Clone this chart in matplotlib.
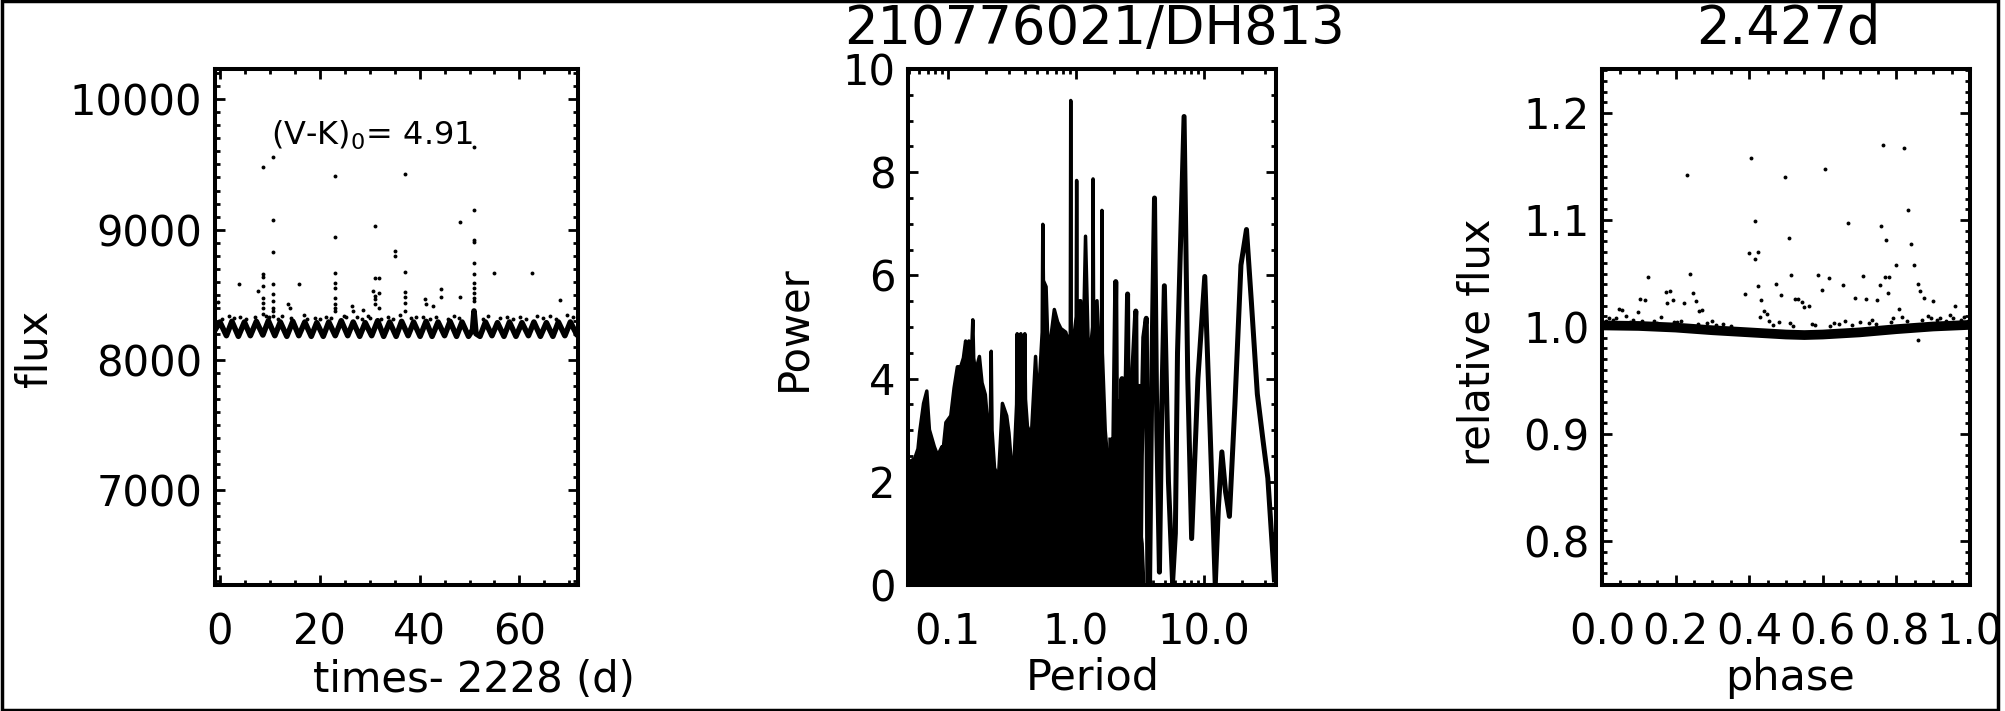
import matplotlib
matplotlib.use('Agg')
import matplotlib.pyplot as plt
from matplotlib.patches import Rectangle
from matplotlib.ticker import MultipleLocator, FixedLocator, LogLocator, NullFormatter

plt.rcParams['font.family'] = ['DejaVu Sans']
plt.rcParams['mathtext.default'] = 'regular'

# ---- light curve (left panel): baseline zigzag ----
band_time = [-0.8, 0.0, 1.3, 2.4, 3.7, 4.9, 6.1, 7.3, 8.6, 9.7, 11.0, 12.1, 13.4, 14.6,
             15.8, 17.0, 18.3, 19.4, 20.7, 21.8, 23.1, 24.3, 25.6, 26.7, 28.0, 29.1,
             30.4, 31.6, 32.8, 34.0, 35.3, 36.4, 37.7, 38.8, 40.1, 41.3, 42.5, 43.7,
             45.0, 46.1, 47.4, 48.5, 49.8, 50.6, 50.9, 51.3, 52.1, 53.2, 54.5, 55.6,
             56.9, 58.0, 59.3, 60.5, 61.8, 62.9, 64.2, 65.4, 66.7, 67.8, 69.1, 70.2, 71.4]
band_flux = [8240, 8290, 8185, 8295, 8180, 8290, 8185, 8295, 8190, 8300, 8185, 8290, 8180, 8295,
             8185, 8290, 8180, 8285, 8180, 8290, 8185, 8300, 8185, 8290, 8180, 8285,
             8185, 8300, 8180, 8290, 8180, 8295, 8185, 8290, 8180, 8295, 8180, 8290,
             8185, 8295, 8180, 8290, 8180, 8230, 8375, 8200, 8180, 8290, 8185, 8285,
             8180, 8290, 8180, 8285, 8185, 8290, 8180, 8285, 8180, 8290, 8185, 8290, 8200]

# flare points and scatter above the baseline
flare_time = [-0.3, 3.9, 7.7, 8.7, 8.7, 8.7, 8.7, 8.7, 8.7, 8.7, 8.7,
              10.7, 10.7, 10.7, 10.7, 10.7, 10.7, 10.7, 10.7, 10.7,
              13.7, 14.0, 15.9, 23.1, 23.1, 23.1, 23.1, 23.1, 23.1, 23.1, 23.1, 23.1,
              26.4, 26.6, 28.6, 30.6, 31.0, 31.0, 31.0, 31.0, 31.0, 31.8, 31.8, 31.8,
              35.0, 35.0, 37.0, 37.0, 37.0, 37.0, 37.0, 37.0, 41.1, 41.2, 42.6,
              44.3, 44.3, 48.1, 48.1, 50.9, 50.9, 50.9, 50.9, 50.9, 50.9, 50.9,
              50.9, 50.9, 50.9, 50.9, 55.0, 62.5, 68.1,
              1.9, 4.1, 9.3, 12.5, 16.8, 19.0, 21.3, 24.8, 27.5, 29.6, 33.7, 36.0,
              39.2, 43.2, 46.9, 53.8, 57.5, 60.1, 63.6, 66.2, 69.6,
              0.4, 2.8, 5.3, 7.0, 9.9, 11.6, 14.3, 17.4, 20.1, 22.3, 25.2, 28.4,
              30.0, 32.3, 34.6, 38.3, 40.6, 42.0, 45.6, 47.8, 52.7, 56.2, 58.8,
              61.3, 64.8, 67.3, 70.7]
flare_flux = [8440, 8580, 8530, 9480, 8656, 8638, 8566, 8477, 8439, 8400, 8350,
              9560, 9077, 8826, 8579, 8503, 8451, 8401, 8375, 8340,
              8426, 8401, 8579, 9413, 8941, 8669, 8592, 8554, 8477, 8426, 8401, 8375,
              8410, 8375, 8380, 8530, 9031, 8626, 8490, 8465, 8425, 8626, 8515, 8400,
              8834, 8796, 9426, 8673, 8518, 8479, 8439, 8375, 8464, 8430, 8411,
              8541, 8480, 9059, 8484, 9637, 9153, 8923, 8903, 8740, 8656, 8592,
              8554, 8515, 8477, 8451, 8664, 8664, 8457,
              8340, 8330, 8340, 8335, 8345, 8320, 8330, 8335, 8325, 8340, 8330, 8345,
              8325, 8330, 8340, 8335, 8330, 8325, 8335, 8340, 8345,
              8315, 8320, 8310, 8325, 8330, 8315, 8320, 8310, 8315, 8320, 8325, 8310,
              8320, 8315, 8310, 8320, 8325, 8315, 8310, 8320, 8315, 8320, 8310,
              8315, 8320, 8310, 8325]

# ---- periodogram (middle panel) ----
# dense part: upper envelope of the unresolved spikes
env_period = [0.0492, 0.0513, 0.0554, 0.0588, 0.0605, 0.0650, 0.0689, 0.0722, 0.0789, 0.0838,
              0.0904, 0.0910, 0.0916, 0.0922, 0.0971, 0.106, 0.1125, 0.1194, 0.1267, 0.1330,
              0.1384, 0.1420, 0.1468, 0.1495, 0.1512, 0.1545, 0.1575, 0.1600, 0.1652, 0.1773,
              0.1859, 0.1972, 0.2067, 0.2160, 0.2193, 0.2225, 0.2327, 0.2496, 0.2681, 0.2895,
              0.3015, 0.3162, 0.3316, 0.3460, 0.3497, 0.3540, 0.3700, 0.3733, 0.3770, 0.3960,
              0.4010, 0.4060, 0.4202, 0.4508, 0.4866, 0.5070, 0.5480, 0.5542, 0.5600, 0.5878,
              0.6053, 0.6422, 0.6814, 0.7229, 0.7669, 0.8377, 0.8630, 0.9080, 0.9154, 0.9230,
              0.9709, 1.0100, 1.018, 1.026, 1.093, 1.139, 1.194, 1.266, 1.355, 1.367,
              1.380, 1.468, 1.539, 1.592, 1.604, 1.616, 1.701, 1.805, 1.881, 1.950,
              2.100, 2.250, 2.400, 2.550, 2.700, 2.850, 3.000, 3.150, 3.300, 3.400]
env_power = [2.00, 2.40, 2.45, 2.64, 2.95, 3.52, 3.76, 3.01, 2.68, 2.51,
             2.68, 2.60, 1.94, 2.60, 3.15, 3.28, 3.82, 4.23, 4.23, 4.40,
             4.73, 4.50, 4.73, 4.60, 2.88, 4.60, 5.14, 4.40, 4.13, 4.43,
             3.92, 3.69, 3.08, 3.30, 4.53, 3.00, 2.27, 2.07, 3.52, 3.28,
             2.95, 2.31, 2.47, 3.50, 4.87, 3.60, 3.40, 4.87, 3.50, 3.60,
             4.87, 3.60, 3.08, 2.88, 4.43, 3.42, 4.90, 6.99, 5.90, 5.78,
             4.77, 4.83, 5.34, 5.10, 4.97, 4.90, 4.77, 4.85, 9.39, 4.85,
             4.83, 5.20, 7.84, 5.50, 5.51, 4.30, 6.76, 4.20, 5.00, 7.87,
             5.30, 5.51, 4.20, 5.00, 7.26, 4.50, 3.00, 2.20, 2.81, 2.30,
             2.60, 1.60, 2.40, 1.50, 2.80, 1.80, 2.20, 1.20, 0.80, 0.00]

# resolved part at long periods
res_period = [1.881, 1.93, 2.00, 2.055, 2.11, 2.154, 2.22, 2.30, 2.36, 2.45, 2.542, 2.60,
              2.649, 2.72, 2.80, 2.946, 3.02, 3.125, 3.19, 3.257, 3.40, 3.559, 3.66, 3.776,
              3.95, 4.125, 4.30, 4.507, 4.70, 4.924, 5.30, 5.707, 6.00, 6.236, 7.017, 7.50,
              8.038, 9.00, 10.18, 11.2, 12.29, 13.0, 13.84, 14.8, 15.85, 17.5, 19.5, 21.54,
              23.5, 26.18, 29.0, 31.62, 35.59]
res_power = [2.81, 0.20, 3.50, 5.88, 0.50, 3.55, 0.15, 4.00, 0.20, 3.20, 5.64, 0.20,
             3.80, 0.10, 4.20, 5.31, 0.30, 3.85, 0.10, 2.50, 4.80, 5.17, 0.05, 0.05,
             4.50, 7.50, 3.00, 0.25, 3.50, 5.80, 2.00, 0.05, 1.00, 4.50, 9.08, 4.00,
             0.90, 4.00, 5.98, 3.00, 0.00, 1.50, 2.58, 1.80, 1.33, 3.50, 6.20, 6.89,
             5.50, 3.70, 2.80, 2.07, 0.10]

# ---- phased light curve (right panel) ----
band_phase = [0.0, 0.1, 0.2, 0.3, 0.4, 0.5, 0.55, 0.6, 0.7, 0.8, 0.9, 1.0]
band_rel = [1.0015, 1.0010, 0.9995, 0.9970, 0.9950, 0.9930, 0.9925, 0.9930, 0.9950, 0.9980, 1.0005, 1.0020]

out_phase = [0.231, 0.406, 0.498, 0.607, 0.765, 0.822, 0.415, 0.507, 0.668, 0.758, 0.832, 0.772,
             0.841, 0.399, 0.424, 0.415, 0.799, 0.849, 0.125, 0.240, 0.514, 0.587, 0.616, 0.709,
             0.768, 0.781, 0.858, 0.424, 0.598, 0.655, 0.756, 0.474, 0.487, 0.389, 0.777, 0.864,
             0.175, 0.186, 0.248, 0.525, 0.687, 0.718, 0.747, 0.104, 0.118, 0.193, 0.222, 0.256,
             0.432, 0.534, 0.543, 0.562, 0.549, 0.876, 0.901, 0.806, 0.960, 0.047, 0.054, 0.038,
             0.098, 0.178, 0.265, 0.272, 0.299, 0.430, 0.439, 0.448, 0.858,
             0.020, 0.065, 0.085, 0.140, 0.160, 0.205, 0.285, 0.330, 0.455, 0.480, 0.510,
             0.570, 0.630, 0.660, 0.700, 0.735, 0.790, 0.815, 0.885, 0.920, 0.945, 0.985,
             0.010, 0.030, 0.075, 0.110, 0.150, 0.195, 0.215, 0.260, 0.310, 0.350, 0.465,
             0.520, 0.580, 0.620, 0.645, 0.680, 0.725, 0.745, 0.785, 0.830, 0.870, 0.895,
             0.910, 0.935, 0.955, 0.975, 0.995]
out_rel = [1.142, 1.158, 1.140, 1.148, 1.170, 1.167, 1.099, 1.083, 1.097, 1.094, 1.109, 1.081,
           1.078, 1.069, 1.070, 1.064, 1.058, 1.058, 1.047, 1.050, 1.049, 1.049, 1.046, 1.048,
           1.047, 1.047, 1.040, 1.038, 1.035, 1.039, 1.039, 1.040, 1.030, 1.031, 1.032, 1.034,
           1.033, 1.034, 1.032, 1.026, 1.027, 1.026, 1.025, 1.026, 1.025, 1.025, 1.022, 1.024,
           1.025, 1.026, 1.023, 1.020, 1.019, 1.027, 1.024, 1.017, 1.020, 1.017, 1.016, 1.008,
           1.014, 1.022, 1.015, 1.016, 1.006, 1.009, 1.015, 1.012, 0.988,
           1.008, 1.010, 1.007, 1.006, 1.009, 1.005, 1.004, 1.003, 1.006, 1.005, 1.004,
           1.003, 1.004, 1.006, 1.005, 1.007, 1.008, 1.009, 1.010, 1.008, 1.011, 1.009,
           1.006, 1.007, 1.005, 1.006, 1.004, 1.005, 1.006, 1.003, 1.002, 1.001, 1.002,
           1.001, 1.002, 1.001, 1.003, 1.002, 1.004, 1.003, 1.005, 1.006, 1.007, 1.008,
           1.007, 1.006, 1.008, 1.007, 1.006]

fig = plt.figure(figsize=(20.05, 7.11), dpi=100)
ax1 = fig.add_axes([0.1072, 0.1772, 0.1810, 0.7257])
ax2 = fig.add_axes([0.4529, 0.1772, 0.1835, 0.7257])
ax3 = fig.add_axes([0.7990, 0.1772, 0.1835, 0.7257])

for ax in (ax1, ax2, ax3):
    for sp in ax.spines.values():
        sp.set_linewidth(2.9)
    ax.tick_params(which='both', direction='in', top=True, right=True, width=2.0)
    ax.tick_params(which='major', length=7)
    ax.tick_params(which='minor', length=3.5)
    ax.tick_params(axis='x', labelsize=30, pad=19)
    ax.tick_params(axis='y', labelsize=30, pad=9)

# left: flux vs time
ax1.plot(band_time, band_flux, color='k', lw=4.0)
ax1.plot(flare_time, flare_flux, 'o', ms=2.8, mew=0, color='k')
ax1.set_xlim(-1.0, 71.7)
ax1.set_ylim(6270, 10233)
ax1.xaxis.set_major_locator(FixedLocator([0, 20, 40, 60]))
ax1.xaxis.set_minor_locator(MultipleLocator(5))
ax1.yaxis.set_major_locator(FixedLocator([7000, 8000, 9000, 10000]))
ax1.yaxis.set_minor_locator(MultipleLocator(100))
ax1.text(10.3, 9650, '(V-K)$_0$= 4.91', fontsize=23)

# middle: periodogram
ax2.fill_between(env_period, 0, env_power, color='k', lw=0)
ax2.plot(env_period, env_power, color='k', lw=2.5)
ax2.plot(res_period, res_power, color='k', lw=3.6)
ax2.set_xscale('log')
ax2.set_xlim(0.0492, 36.6)
ax2.set_ylim(0, 10)
ax2.xaxis.set_major_locator(FixedLocator([0.1, 1.0, 10.0]))
ax2.xaxis.set_major_formatter(plt.FixedFormatter(['0.1', '1.0', '10.0']))
ax2.xaxis.set_minor_locator(LogLocator(subs=[2, 3, 4, 5, 6, 7, 8, 9]))
ax2.xaxis.set_minor_formatter(NullFormatter())
ax2.yaxis.set_major_locator(MultipleLocator(2))
ax2.yaxis.set_minor_locator(MultipleLocator(0.5))

# right: phased light curve
ax3.plot(band_phase, band_rel, color='k', lw=7.0)
ax3.plot(out_phase, out_rel, 'o', ms=2.8, mew=0, color='k')
ax3.set_xlim(0, 1)
ax3.set_ylim(0.759, 1.241)
ax3.xaxis.set_major_locator(MultipleLocator(0.2))
ax3.xaxis.set_major_formatter(plt.FormatStrFormatter('%.1f'))
ax3.xaxis.set_minor_locator(MultipleLocator(0.05))
ax3.yaxis.set_major_locator(MultipleLocator(0.1))
ax3.yaxis.set_major_formatter(plt.FormatStrFormatter('%.1f'))
ax3.yaxis.set_minor_locator(MultipleLocator(0.01))

# labels and titles placed like the original
W, H = 2005.0, 711.0
fig.text(34.5 / W, 1 - 348 / H, 'flux', rotation=90, ha='center', va='center', fontsize=30)
fig.text(793 / W, 1 - 328 / H, 'Power', rotation=90, ha='center', va='center', fontsize=30)
fig.text(1477 / W, 1 - 342 / H, 'relative flux', rotation=90, ha='center', va='center', fontsize=30)
fig.text(474 / W, 1 - 680 / H, 'times- 2228 (d)', ha='center', va='center', fontsize=30)
fig.text(1093 / W, 1 - 678 / H, 'Period', ha='center', va='center', fontsize=31)
fig.text(1790 / W, 1 - 678 / H, 'phase', ha='center', va='center', fontsize=31)
fig.text(1094 / W, 1 - 29 / H, '210776021/DH813', ha='center', va='center', fontsize=38)
fig.text(1788 / W, 1 - 29 / H, '2.427d', ha='center', va='center', fontsize=38)

# frame round the whole picture
fig.add_artist(Rectangle((0.9975, 0), 0.0025, 1, transform=fig.transFigure,
                         fc='white', ec='none', zorder=10))
fig.add_artist(Rectangle((0.001, 0.002), 0.9955, 0.996, transform=fig.transFigure,
                         fill=False, ec='k', lw=2.5, zorder=11))

fig.savefig('out.png', dpi=100)
